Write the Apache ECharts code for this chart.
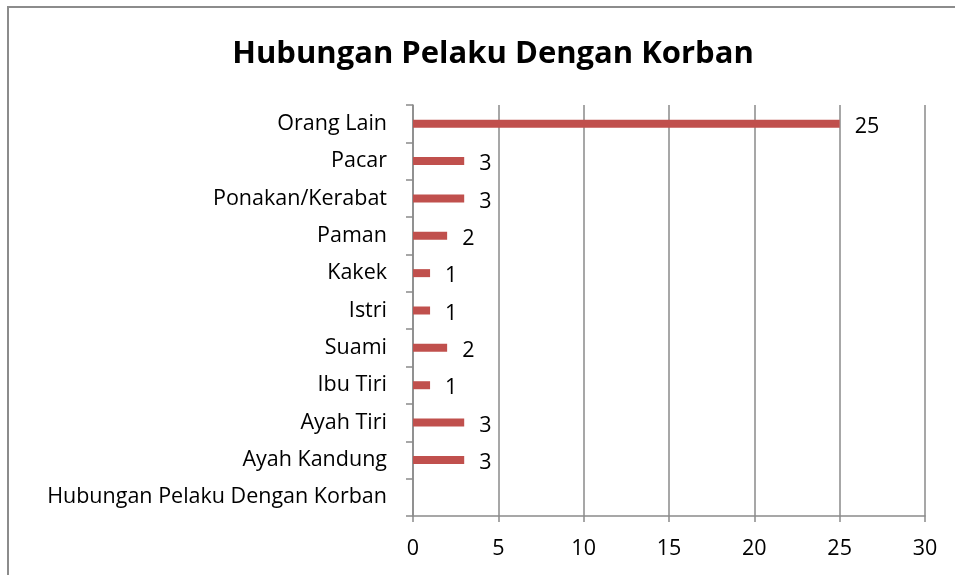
<!DOCTYPE html>
<html>
<head>
<meta charset="utf-8">
<script src="https://cdn.jsdelivr.net/npm/echarts@6/dist/echarts.min.js"></script>
<style>
  html, body { margin: 0; padding: 0; background: #fff; }
  #chart { width: 955px; height: 575px; }
</style>
</head>
<body>
<div id="chart"></div>
<script>
// categories listed top to bottom
var categories = [
  "Orang Lain",
  "Pacar",
  "Ponakan/Kerabat",
  "Paman",
  "Kakek",
  "Istri",
  "Suami",
  "Ibu Tiri",
  "Ayah Tiri",
  "Ayah Kandung",
  "Hubungan Pelaku Dengan Korban"
];
var values = [25, 3, 3, 2, 1, 1, 2, 1, 3, 3, null];

var font = "'Open Sans', 'Noto Sans', sans-serif";
var gray = "#8a8a8a";

var myChart = echarts.init(document.getElementById("chart"));
var option = {
  animation: false,
  title: {
    text: "Hubungan Pelaku Dengan Korban",
    left: 488,
    textAlign: "center",
    top: 34,
    textStyle: { fontFamily: font, fontSize: 31, fontWeight: "bold", color: "#000" }
  },
  graphic: [{
    type: "rect",
    shape: { x: 8, y: 7, width: 1000, height: 700 },
    style: { fill: "none", stroke: "#8c8c8c", lineWidth: 2 },
    silent: true
  }],
  grid: { left: 413, right: 30, top: 105, bottom: 59, containLabel: false },
  xAxis: {
    type: "value",
    min: 0,
    max: 30,
    interval: 5,
    axisLine: { show: true, lineStyle: { color: gray, width: 1.5 } },
    axisTick: { show: true, length: 6, lineStyle: { color: gray, width: 1.5 } },
    axisLabel: { fontFamily: font, fontSize: 21.5, color: "#000", margin: 22 },
    splitLine: { show: true, lineStyle: { color: gray, width: 1.5 } }
  },
  yAxis: {
    type: "category",
    data: categories,
    inverse: true,
    axisLine: { show: true, lineStyle: { color: gray, width: 1.5 } },
    axisTick: { show: true, length: 7, lineStyle: { color: gray, width: 1.5 } },
    axisLabel: { fontFamily: font, fontSize: 21.5, color: "#000", margin: 26, padding: [3, 0, 0, 0] }
  },
  series: [{
    type: "bar",
    data: values,
    barWidth: 8,
    itemStyle: { color: "#c0504d" },
    label: {
      show: true,
      position: "right",
      distance: 15,
      offset: [0, 3],
      fontFamily: font,
      fontSize: 21.5,
      color: "#000"
    }
  }]
};
myChart.setOption(option);
</script>
</body>
</html>
